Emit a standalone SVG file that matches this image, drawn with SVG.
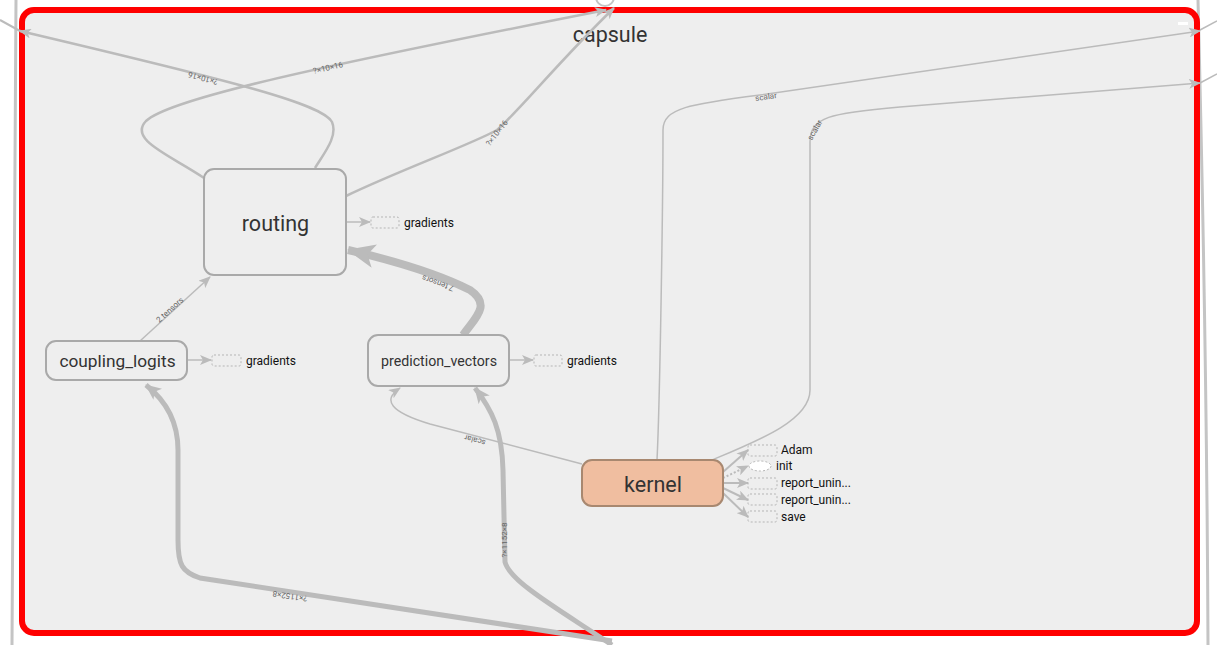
<svg xmlns="http://www.w3.org/2000/svg" width="1217" height="645" viewBox="0 0 1217 645">
<style>
.node rect{fill:#eeeeee;stroke:#a9a9a9;stroke-width:2}
.nt{font-family:Roboto,"Liberation Sans",sans-serif;fill:#333333;text-anchor:middle;dominant-baseline:central}
.e{fill:none;stroke:#bbbbbb}
.lbl{font-family:Roboto,"Liberation Sans",sans-serif;font-size:8px;fill:#666;text-anchor:middle;dominant-baseline:central}
.aux rect{fill:none;stroke:#b5b5b5;stroke-width:1;stroke-dasharray:2,2}
.at{font-family:Roboto,"Liberation Sans",sans-serif;font-size:12px;fill:#111;dominant-baseline:central}
</style>
<defs>
<marker id="ah" markerUnits="userSpaceOnUse" markerWidth="12" markerHeight="10" refX="11" refY="5" orient="auto" viewBox="0 0 12 10"><path d="M0,0 L12,5 L0,10 L3,5 z" fill="#bbbbbb"/></marker>
<marker id="ahm" markerUnits="userSpaceOnUse" markerWidth="16" markerHeight="14" refX="15" refY="7" orient="auto" viewBox="0 0 16 14"><path d="M0,0 L16,7 L0,14 L4,7 z" fill="#bbbbbb"/></marker>
<marker id="ahb" markerUnits="userSpaceOnUse" markerWidth="28" markerHeight="24" refX="27" refY="12" orient="auto" viewBox="0 0 28 24"><path d="M0,0 L28,12 L0,24 L7,12 z" fill="#bbbbbb"/></marker>
</defs>
<rect width="1217" height="645" fill="#ffffff"/>
<g id="outside">
<path d="M16,0 C13,200 12,400 12,645" fill="none" stroke="#c4c4c4" stroke-width="3"/>
<path d="M1198,0 C1203,200 1207,400 1208,645" fill="none" stroke="#c4c4c4" stroke-width="3"/>
<circle cx="605" cy="-3" r="9" fill="none" stroke="#c4c4c4" stroke-width="2"/>
</g>
<g id="capsule">
<rect x="22" y="10" width="1175" height="623" rx="12" fill="#eeeeee" stroke="#ff0000" stroke-width="6"/>
<text x="610" y="34" class="nt" font-size="21.5">capsule</text>
<rect x="1178" y="22" width="10" height="3" fill="#ffffff"/>
</g>
<g id="connectors">
<path class="e" stroke-width="2" d="M0,20 L20,31"/>
<path class="e" stroke-width="1.5" d="M1200,30 L1217,21"/>
<path class="e" stroke-width="1.5" d="M1200,83 L1217,74"/>
<path class="e" stroke-width="2.5" d="M315,168 C325,152 338,136 332,122 C322,104 240,83 20,31" marker-end="url(#ah)"/>
<path class="e" stroke-width="2.5" d="M204,178 C170,155 128,140 146,121 C168,100 300,70 606,10" marker-end="url(#ah)"/>
<path class="e" stroke-width="2.5" d="M346,196 C400,170 470,145 497,130 C520,110 560,60 614,8" marker-end="url(#ah)"/>
<path class="e" stroke-width="1.5" d="M657,460 C660,400 663,200 663,130 C663,108 690,104 760,95 L1200,31" marker-end="url(#ah)"/>
<path class="e" stroke-width="1.5" d="M712,460 C760,440 810,420 810,390 L810,142 C810,117 830,113 900,107 L1200,83" marker-end="url(#ah)"/>
<path class="e" stroke-width="1.5" d="M582,464 L430,424 C390,412 382,400 400,388" marker-end="url(#ah)"/>
<path class="e" stroke-width="5" d="M612,645 C560,610 510,582 505,562 L503,470 C502,430 492,410 475,388" marker-end="url(#ahm)"/>
<path class="e" stroke-width="5" d="M612,641 L200,578 C182,572 178,565 178,540 L178,450 C178,420 165,400 146,385" marker-end="url(#ahm)"/>
<path class="e" stroke-width="8" d="M463,335 C475,318 492,305 470,290 C440,275 400,262 348,250" marker-end="url(#ahb)"/>
<path class="e" stroke-width="1.5" d="M140,341 L210,277" marker-end="url(#ah)"/>
<path class="e" stroke-width="1.5" d="M346,222 L370,222" marker-end="url(#ah)"/>
<path class="e" stroke-width="1.5" d="M188,360 L211,360" marker-end="url(#ah)"/>
<path class="e" stroke-width="1.5" d="M510,360 L533,360" marker-end="url(#ah)"/>
<path class="e" stroke-width="2" d="M723,472 L748,450" marker-end="url(#ah)"/>
<path class="e" stroke-width="2" stroke-dasharray="2,2" d="M723,478 L748,466" marker-end="url(#ah)"/>
<path class="e" stroke-width="2" d="M723,483 L748,483" marker-end="url(#ah)"/>
<path class="e" stroke-width="2" d="M723,488 L748,500" marker-end="url(#ah)"/>
<path class="e" stroke-width="2" d="M723,493 L748,517" marker-end="url(#ah)"/>
<text class="lbl" transform="translate(203,78) rotate(195)">?×10×16</text>
<text class="lbl" transform="translate(328,68) rotate(-13)">?×10×16</text>
<text class="lbl" transform="translate(497,133) rotate(-52)">?×10×16</text>
<text class="lbl" transform="translate(766,97) rotate(-8)">scalar</text>
<text class="lbl" transform="translate(815,130) rotate(-60)">scalar</text>
<text class="lbl" transform="translate(475,440) rotate(195)">scalar</text>
<text class="lbl" transform="translate(504,540) rotate(-90)">?×1152×8</text>
<text class="lbl" transform="translate(290,596) rotate(188.5)">?×1152×8</text>
<text class="lbl" transform="translate(438,283) rotate(200)">7 tensors</text>
<text class="lbl" transform="translate(170,310) rotate(-42)">2 tensors</text>
</g>
<g id="routing" class="node">
<rect x="204" y="169" width="142" height="106" rx="10"/>
<text x="275.5" y="223" class="nt" font-size="21.5">routing</text>
</g>
<g id="coupling_logits" class="node">
<rect x="46" y="341" width="141" height="39" rx="10"/>
<text x="117.5" y="361" class="nt" font-size="17.3">coupling_logits</text>
</g>
<g id="prediction_vectors" class="node">
<rect x="368" y="335" width="141" height="51" rx="10"/>
<text x="439" y="361" class="nt" font-size="14.2">prediction_vectors</text>
</g>
<g id="kernel">
<rect x="582" y="460" width="141" height="46" rx="10" fill="#f0bea0" stroke="#a88870" stroke-width="2"/>
<text x="653" y="484" class="nt" font-size="21.5">kernel</text>
</g>
<g id="routing_gradients" class="aux">
<rect x="371" y="217" width="28" height="11" rx="2"/>
<text x="404" y="223" class="at">gradients</text>
</g>
<g id="coupling_gradients" class="aux">
<rect x="212" y="355" width="29" height="11" rx="2"/>
<text x="246" y="361" class="at">gradients</text>
</g>
<g id="prediction_gradients" class="aux">
<rect x="534" y="355" width="28" height="11" rx="2"/>
<text x="567" y="361" class="at">gradients</text>
</g>
<g id="adam" class="aux">
<rect x="748" y="445" width="29" height="11" rx="2"/>
<text x="781" y="450" class="at">Adam</text>
</g>
<g id="init">
<ellipse cx="760" cy="466" rx="11" ry="5" fill="#ffffff" stroke="#b5b5b5" stroke-dasharray="2,2"/>
<text x="776" y="466" class="at">init</text>
</g>
<g id="report1" class="aux">
<rect x="748" y="478" width="29" height="11" rx="2"/>
<text x="781" y="483" class="at">report_unin...</text>
</g>
<g id="report2" class="aux">
<rect x="748" y="494" width="29" height="11" rx="2"/>
<text x="781" y="500" class="at">report_unin...</text>
</g>
<g id="save" class="aux">
<rect x="748" y="511" width="29" height="11" rx="2"/>
<text x="781" y="517" class="at">save</text>
</g>
</svg>
